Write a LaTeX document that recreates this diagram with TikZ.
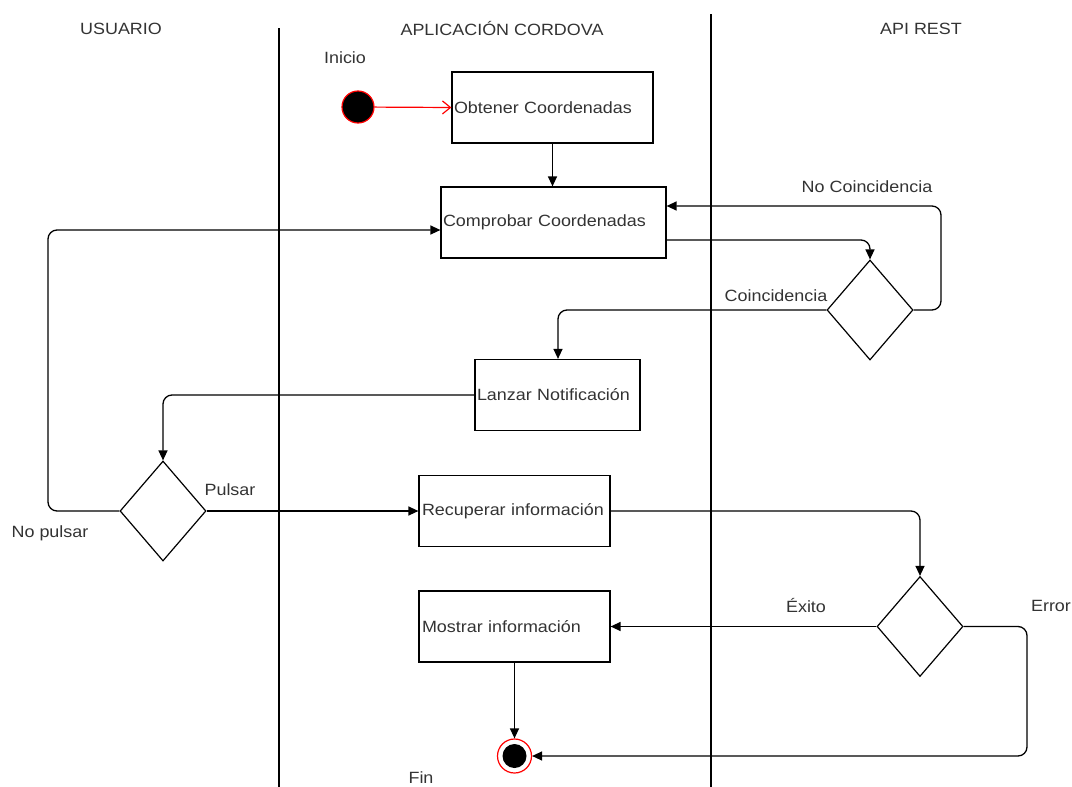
\documentclass[tikz,border=0pt]{standalone}
\usepackage{fontspec}
\setmainfont{Liberation Sans}[FakeStretch=1.1]
\usetikzlibrary{shapes.geometric,arrows.meta}
\definecolor{txt}{HTML}{333333}
\definecolor{startred}{HTML}{FF0000}
\begin{document}
\begin{tikzpicture}[x=1pt,y=-1pt,
  every node/.style={font=\fontsize{16.3}{19}\selectfont, text=txt},
  activity/.style={draw=black, line width=1.2pt, minimum height=71pt, inner sep=3pt},
  choice/.style={draw=black, line width=1.2pt, diamond, aspect=0.86, minimum width=86pt, minimum height=100pt, inner sep=0pt},
  flow/.style={draw=black, line width=1.3pt, rounded corners=9pt, -{Triangle[length=10pt,width=9pt]}},
  lane/.style={draw=black, line width=1.3pt},
  lbl/.style={inner sep=0pt}]
\useasboundingbox (0,0) rectangle (1072,787);

% swimlane separators
\draw[lane] (279,28) -- (279,787);
\draw[lane] (711,14) -- (711,787);

% lane titles
\node[lbl] (hu) at (121,29) {USUARIO};
\node[lbl] (ha) at (502,29) {APLICACIÓN CORDOVA};
\node[lbl] (hr) at (921,29) {API REST};

% initial node
\node[lbl] (ini) at (345,58) {Inicio};
\node[circle, fill=black, draw=startred, line width=1.2pt, minimum size=32pt, inner sep=0pt] (start) at (358,107) {};

% activities (text left aligned inside the boxes)
\node[activity, minimum width=201pt, text width=197pt, align=left, inner sep=2pt] (obt) at (552.5,107.5) {Obtener Coordenadas};
\node[activity, minimum width=225pt, text width=221pt, align=left, inner sep=2pt] (comp) at (553.5,222.5) {Comprobar Coordenadas};
\node[activity, minimum width=165pt, text width=161pt, align=left, inner sep=2pt] (lanz) at (557.5,395) {Lanzar Notificación};
\node[activity, minimum width=191pt, text width=185pt, align=left] (rec) at (514.5,511) {Recuperar información};
\node[activity, minimum width=191pt, text width=185pt, align=left] (most) at (514.5,626.5) {Mostrar información};

% decisions
\node[choice] (d1) at (870,310) {};
\node[choice] (d2) at (163,511) {};
\node[choice] (d3) at (920,626.5) {};

% final node
\node[circle, draw=startred, fill=white, line width=1.2pt, minimum size=34pt, inner sep=0pt] (fin) at (514.5,756) {};
\node[circle, fill=black, minimum size=24pt, inner sep=0pt] at (fin.center) {};
\node[lbl] (finl) at (421,778) {Fin};

% connectors
\draw[line width=1.2pt, draw=startred, -{Straight Barb[length=8pt,width=13pt]}] (start) -- (obt.west);
\draw[flow] (obt.south) -- (comp.north -| obt.south);
\draw[flow] (comp.east |- 0,240) -- (870,240) -- (d1.north);
\draw[flow] (d1.east) -- (941,310) -- (941,206) -- (comp.east |- 0,206);
\draw[flow] (d1.west) -- (558,310) -- (lanz.north -| 558,0);
\draw[flow] (lanz.west) -- (163,395) -- (d2.north);
\draw[flow] (d2.east) -- (rec.west);
\draw[flow] (d2.west) -- (48,511) -- (48,230) -- (comp.west |- 0,230);
\draw[flow] (rec.east) -- (920,511) -- (d3.north);
\draw[flow] (d3.west) -- (most.east);
\draw[flow] (d3.east) -- (1027,626.5) -- (1027,756) -- (fin.east);
\draw[flow] (most.south) -- (fin.north);

% guard labels
\node[lbl] (l1) at (867,187) {No Coincidencia};
\node[lbl] (l2) at (776,296) {Coincidencia};
\node[lbl] (l3) at (230,490) {Pulsar};
\node[lbl] (l4) at (50,533) {No pulsar};
\node[lbl] (l5) at (806,606) {Éxito};
\node[lbl] (l6) at (1051,606) {Error};
\end{tikzpicture}
\end{document}
